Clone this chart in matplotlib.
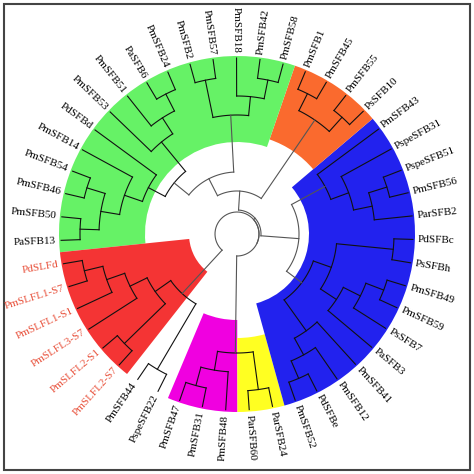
import numpy as np
import matplotlib.pyplot as plt
from matplotlib.patches import Wedge, Rectangle

# clades (nested tuples give the tree topology)
magenta = (("PmSFB47", "PmSFB31"), "PmSFB48")
yellow = ("ParSFB60", "ParSFB24")
blue = (((((("PmSFB52", "PdSFBe"), "PmSFB12"), "PmSFB41"),
          (((("PaSFB3", ("PsSFB7", ("PmSFB59", "PmSFB49"))), ("PsSFBh", "PdSFBc")))))),
        ((("ParSFB2", ("PmSFB56", "PspeSFB51")), "PspeSFB31"), "PmSFB43"))
orange = (("PsSFB10", "PmSFB55"), ("PmSFB45", "PmSFB1"))
green = (((("PmSFB58", "PmSFB42"), "PmSFB18"), ("PmSFB57", "PmSFB2")),
         (((("PmSFB24", "PaSFB6"), "PmSFB51"), "PmSFB53"),
          ("PdSFBd", ("PmSFB14", (("PmSFB54", "PmSFB46"), ("PmSFB50", "PaSFB13"))))))
red = (((("PdSLFd", "PmSLFL1-S7"), "PmSLFL1-S1"), "PmSLFL3-S7"),
       ("PmSLFL2-S1", "PmSLFL2-S7"))
tree = (((magenta, yellow), (blue, (orange, green))), (red, ("PmSFB44", "PspeSFB22")))

clade_colors = [(magenta, "#f000e0", 86), (yellow, "#ffff22", 104), (blue, "#2222ee", 72),
                (orange, "#fa6a2e", 100), (green, "#66f266", 92), (red, "#f43434", 48)]
red_labels = ["PdSLFd", "PmSLFL1-S7", "PmSLFL1-S1", "PmSLFL3-S7", "PmSLFL2-S1", "PmSLFL2-S7"]

CX, CY = 237, 240
R_TIP = 176
STEP = 360 / 47
START = -109


def leaves(n):
    if isinstance(n, str):
        return [n]
    out = []
    for c in n:
        out += leaves(c)
    return out


order = leaves(tree)
ang = {name: START + i * STEP for i, name in enumerate(order)}


def height(n):
    if isinstance(n, str):
        return 0
    return 1 + max(height(c) for c in n)


def layout(n):
    # returns (angle, radius) of node
    if isinstance(n, str):
        return ang[n], R_TIP
    h = height(n)
    r = max(R_TIP - 19 * h, 22)
    kids = [layout(c) for c in n]
    a = np.mean([k[0] for k in kids])
    segs.append((r, kids, a))
    return a, r


segs = []
layout(tree)

fig = plt.figure(figsize=(4.74, 4.74), dpi=100)
ax = fig.add_axes([0, 0, 1, 1])
ax.set_xlim(0, 474)
ax.set_ylim(0, 474)
ax.axis("off")

for clade, col, rin in clade_colors:
    lv = leaves(clade)
    a0 = ang[lv[0]] - STEP / 2
    a1 = ang[lv[-1]] + STEP / 2
    ax.add_patch(Wedge((CX, CY), R_TIP + 2, a0, a1, width=R_TIP + 2 - rin, color=col, lw=0))


def pol(a, r):
    t = np.radians(a)
    return CX + r * np.cos(t), CY + r * np.sin(t)


for r, kids, a in segs:
    angs = [k[0] for k in kids]
    tt = np.linspace(min(angs), max(angs), 40)
    xs, ys = pol(tt, r)
    col = "#555555" if r < 70 else "#111111"
    ax.plot(xs, ys, color=col, lw=0.8)
    for ka, kr in kids:
        x0, y0 = pol(ka, r)
        x1, y1 = pol(ka, kr)
        ax.plot([x0, x1], [y0, y1], color=col, lw=0.8)

for name in order:
    a = ang[name] % 360
    x, y = pol(a, R_TIP + 5)
    if 90 < a < 270:
        rot, ha = a - 180, "right"
    else:
        rot, ha = (a if a <= 90 else a - 360), "left"
    ax.text(x, y, name, rotation=rot, ha=ha, va="center", rotation_mode="anchor",
            fontsize=8, family="Liberation Serif",
            color="#e8503a" if name in red_labels else "black")

ax.add_patch(Rectangle((4, 4), 466, 466, fill=False, ec="#444444", lw=1.5))
fig.savefig("out.png", dpi=100)
